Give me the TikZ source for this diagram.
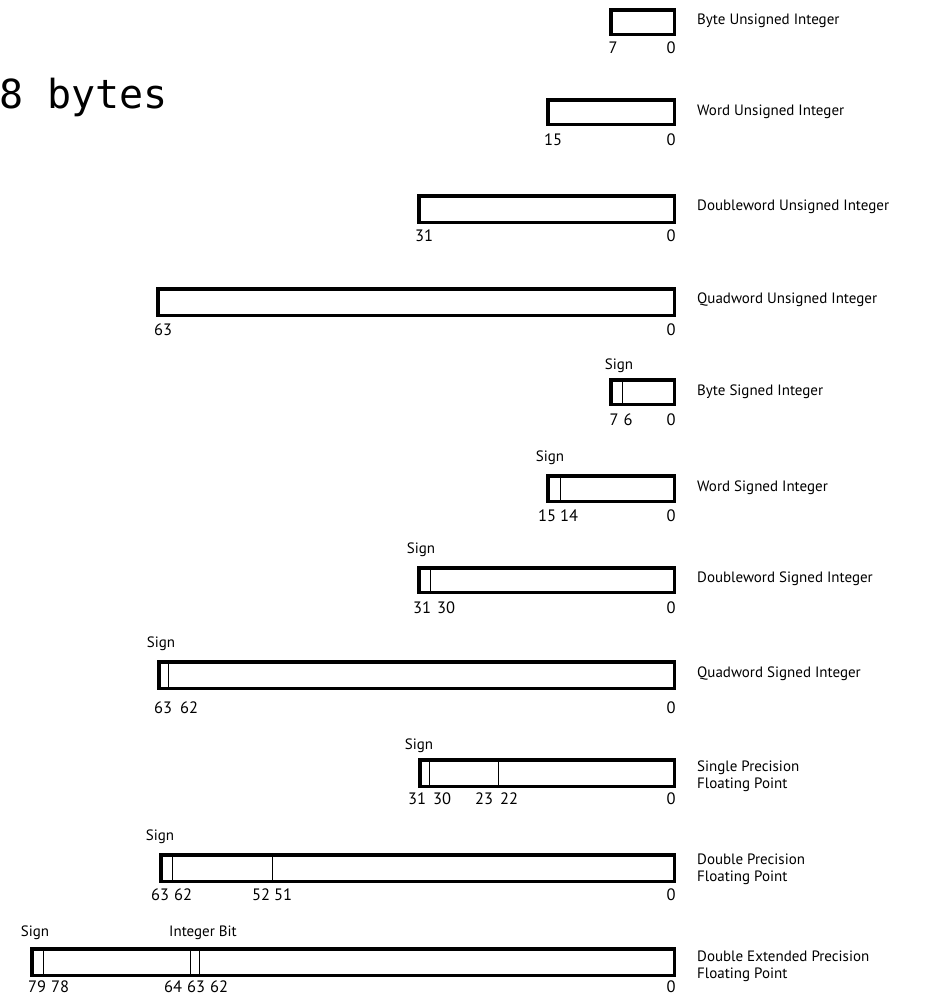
\documentclass[tikz,border=0pt]{standalone}
\usepackage{fontspec}
\setmainfont{PT Sans}
\newfontfamily\monofam{DejaVu Sans Mono}
\tikzset{
  field/.style={line width=3.5pt, fill=white},
  divider/.style={line width=1pt},
  bitnum/.style={font=\fontsize{16.5}{16.5}\selectfont, inner sep=0pt, anchor=center},
  signlbl/.style={font=\fontsize{15}{15}\selectfont, inner sep=0pt, anchor=center},
  typename/.style={font=\fontsize{15}{17}\selectfont, inner sep=0pt, anchor=west, align=left},
}
\begin{document}
\begin{tikzpicture}[x=1pt,y=-1pt]
\useasboundingbox (0,0) rectangle (936,996);
\node[font=\monofam\fontsize{40}{40}\selectfont, inner sep=0pt, anchor=base west] (title) at (-1,108) {8 bytes};

% 1 Byte unsigned
\draw[field] (610.75,9.75) rectangle (674.25,34.25);
\node[bitnum] (b1a) at (613,48) {7};
\node[bitnum] (b1b) at (671,48) {0};
\node[typename] (t1) at (697,21) {Byte Unsigned Integer};

% 2 Word unsigned
\draw[field] (547.75,99.75) rectangle (674.25,124.25);
\node[bitnum] (b2a) at (553,140) {15};
\node[bitnum] (b2b) at (671,140) {0};
\node[typename] (t2) at (697,112) {Word Unsigned Integer};

% 3 Doubleword unsigned
\draw[field] (418.75,195.75) rectangle (674.25,222.25);
\node[bitnum] (b3a) at (424,236) {31};
\node[bitnum] (b3b) at (671,236) {0};
\node[typename] (t3) at (697,207) {Doubleword Unsigned Integer};

% 4 Quadword unsigned
\draw[field] (157.75,288.75) rectangle (674.25,315.25);
\node[bitnum] (b4a) at (163,330) {63};
\node[bitnum] (b4b) at (671,330) {0};
\node[typename] (t4) at (697,300) {Quadword Unsigned Integer};

% 5 Byte signed
\node[signlbl] (s5) at (619,366) {Sign};
\draw[field] (610.75,379.75) rectangle (674.25,404.25);
\draw[divider] (622,379.75) -- (622,404.25);
\node[bitnum] (b5a) at (614,420) {7};
\node[bitnum] (b5b) at (628,420) {6};
\node[bitnum] (b5c) at (671,420) {0};
\node[typename] (t5) at (697,392) {Byte Signed Integer};

% 6 Word signed
\node[signlbl] (s6) at (550,458) {Sign};
\draw[field] (547.75,475.75) rectangle (674.25,501.25);
\draw[divider] (560,475.75) -- (560,501.25);
\node[bitnum] (b6a) at (547,516) {15};
\node[bitnum] (b6b) at (569,516) {14};
\node[bitnum] (b6c) at (671,516) {0};
\node[typename] (t6) at (697,488) {Word Signed Integer};

% 7 Doubleword signed
\node[signlbl] (s7) at (421,550) {Sign};
\draw[field] (418.75,567.75) rectangle (674.25,592.25);
\draw[divider] (430,567.75) -- (430,592.25);
\node[bitnum] (b7a) at (422,608) {31};
\node[bitnum] (b7b) at (446,608) {30};
\node[bitnum] (b7c) at (671,608) {0};
\node[typename] (t7) at (697,579) {Doubleword Signed Integer};

% 8 Quadword signed
\node[signlbl] (s8) at (161,644) {Sign};
\draw[field] (158.75,661.75) rectangle (674.25,688.25);
\draw[divider] (168,661.75) -- (168,688.25);
\node[bitnum] (b8a) at (163,708) {63};
\node[bitnum] (b8b) at (189,708) {62};
\node[bitnum] (b8c) at (671,708) {0};
\node[typename] (t8) at (697,674) {Quadword Signed Integer};

% 9 Single precision
\node[signlbl] (s9) at (419,746) {Sign};
\draw[field] (419.75,759.75) rectangle (674.25,786.25);
\draw[divider] (429,759.75) -- (429,786.25);
\draw[divider] (498,759.75) -- (498,786.25);
\node[bitnum] (b9a) at (417,799) {31};
\node[bitnum] (b9b) at (442,799) {30};
\node[bitnum] (b9c) at (484,799) {23};
\node[bitnum] (b9d) at (509,799) {22};
\node[bitnum] (b9e) at (671,799) {0};
\node[typename] (t9) at (697,776) {Single Precision\\Floating Point};

% 10 Double precision
\node[signlbl] (s10) at (160,837) {Sign};
\draw[field] (160.75,854.75) rectangle (674.25,881.25);
\draw[divider] (172,854.75) -- (172,881.25);
\draw[divider] (272,854.75) -- (272,881.25);
\node[bitnum] (b10a) at (160,895) {63};
\node[bitnum] (b10b) at (183,895) {62};
\node[bitnum] (b10c) at (261,895) {52};
\node[bitnum] (b10d) at (283,895) {51};
\node[bitnum] (b10e) at (671,895) {0};
\node[typename] (t10) at (697,869) {Double Precision\\Floating Point};

% 11 Double extended precision
\node[signlbl] (s11) at (35,933) {Sign};
\node[signlbl] (ib) at (203,933) {Integer Bit};
\draw[field] (31.75,948.75) rectangle (674.25,975.25);
\draw[divider] (43,948.75) -- (43,975.25);
\draw[divider] (190,948.75) -- (190,975.25);
\draw[divider] (199,948.75) -- (199,975.25);
\node[bitnum] (b11a) at (37,986.5) {79};
\node[bitnum] (b11b) at (60,986.5) {78};
\node[bitnum] (b11c) at (173,986.5) {64};
\node[bitnum] (b11d) at (196,986.5) {63};
\node[bitnum] (b11e) at (219,986.5) {62};
\node[bitnum] (b11f) at (671,986.5) {0};
\node[typename] (t11) at (697,966) {Double Extended Precision\\Floating Point};
\end{tikzpicture}
\end{document}
